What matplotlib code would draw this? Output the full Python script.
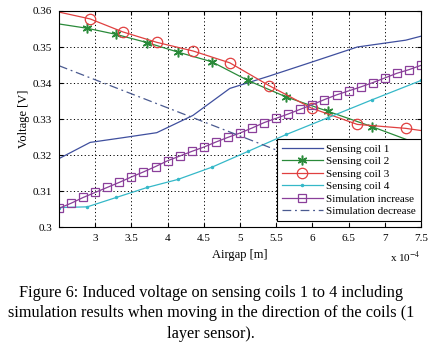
import matplotlib
matplotlib.use("Agg")
import matplotlib.pyplot as plt

plt.rcParams['font.family'] = ['Liberation Serif', 'DejaVu Serif']
plt.rcParams['mathtext.fontset'] = 'stix'

# airgap positions in units of 1e-4 m
x_coil13 = [2.5, 2.93, 3.38, 3.85, 4.35, 4.86, 5.40, 5.99, 6.62, 7.29, 7.5]
x_coil24 = [2.5, 2.89, 3.29, 3.72, 4.14, 4.61, 5.11, 5.64, 6.22, 6.82, 7.5]
x_sim = [2.5 + k / 6 for k in range(31)]

coil1 = [0.3190, 0.3235, 0.3248, 0.3262, 0.3310, 0.3385, 0.3419, 0.3458, 0.3500, 0.3519, 0.3530]
coil2 = [0.3564, 0.3552, 0.3535, 0.3512, 0.3486, 0.3459, 0.3407, 0.3361, 0.3321, 0.3279, 0.3228]
coil3 = [0.3597, 0.3578, 0.3542, 0.3513, 0.3489, 0.3456, 0.3393, 0.3330, 0.3285, 0.3274, 0.3268]
coil4 = [0.3054, 0.3056, 0.3082, 0.3110, 0.3132, 0.3166, 0.3210, 0.3257, 0.3304, 0.3353, 0.3407]

sim_inc = [0.3052, 0.3066, 0.3082, 0.3096, 0.3110, 0.3124, 0.3139, 0.3153, 0.3168, 0.3184,
           0.3197, 0.3210, 0.3222, 0.3236, 0.3249, 0.3261, 0.3275, 0.3290, 0.3302, 0.3314,
           0.3327, 0.3340, 0.3354, 0.3367, 0.3378, 0.3389, 0.3401, 0.3414, 0.3427, 0.3437,
           0.3449]
sim_dec = [0.3448, 0.3435, 0.3422, 0.3409, 0.3396, 0.3383, 0.3370, 0.3357, 0.3344, 0.3331,
           0.3318, 0.3305, 0.3292, 0.3279, 0.3266, 0.3253, 0.3240, 0.3227, 0.3214, 0.3201,
           0.3188, 0.3175, 0.3162, 0.3149, 0.3136, 0.3123, 0.3110, 0.3097, 0.3084, 0.3071,
           0.3058]

xticks = [3, 3.5, 4, 4.5, 5, 5.5, 6, 6.5, 7, 7.5]
xticklabels = ['3', '3.5', '4', '4.5', '5', '5.5', '6', '6.5', '7', '7.5']
yticks = [0.30, 0.31, 0.32, 0.33, 0.34, 0.35, 0.36]
yticklabels = ['0.3', '0.31', '0.32', '0.33', '0.34', '0.35', '0.36']

fig = plt.figure(figsize=(4.39, 3.47), dpi=100)
ax = fig.add_axes([0.1344, 0.3458, 0.8246, 0.6225])

ax.plot(x_coil13, coil1, color='#3f4f9e', lw=0.9, label='Sensing coil 1')
ax.plot(x_coil24, coil2, color='#2a8a3a', lw=0.9, marker=(6, 2, 0), ms=7, mew=1.1,
        markevery=list(range(1, len(coil2))), label='Sensing coil 2')
ax.plot(x_coil13, coil3, color='#e04040', lw=0.9, marker='o', ms=7.5, mfc='none', mew=0.9,
        markevery=list(range(1, len(coil3) - 1)), label='Sensing coil 3')
ax.plot(x_coil24, coil4, color='#35b8c8', lw=0.9, marker='.', ms=3,
        label='Sensing coil 4')
ax.plot(x_sim, sim_inc, color='#8a3f9a', lw=0.9, marker='s', ms=6, mfc='none', mew=0.9,
        label='Simulation increase')
ax.plot(x_sim, sim_dec, color='#4a5a90', lw=0.9, ls=(0, (7, 3, 1.5, 3)),
        label='Simulation decrease')

ax.set_xlim(2.5, 7.5)
ax.set_ylim(0.3, 0.36)
ax.set_xticks(xticks)
ax.set_xticklabels(xticklabels)
ax.set_yticks(yticks)
ax.set_yticklabels(yticklabels)
ax.tick_params(direction='in', length=3, labelsize=8, top=True, right=True, pad=5)
ax.grid(True, color='black', ls=(0, (1.2, 2.5)), lw=0.7)
for s in ax.spines.values():
    s.set_linewidth(0.8)

ax.set_xlabel('Airgap [m]', fontsize=9, labelpad=4)
ax.set_ylabel('Voltage [V]', fontsize=9, labelpad=2)

leg = ax.legend(loc='lower right', bbox_to_anchor=(1.0, 0.028), fontsize=8,
                fancybox=False, edgecolor='black', framealpha=1, handlelength=3.7,
                handletextpad=0.3, borderpad=0.45, labelspacing=0.24, borderaxespad=0)
leg.get_frame().set_linewidth(0.8)

fig.text(0.959, 0.258, r'x 10$^{-4}$', fontsize=8, ha='right', va='center')

fig.text(0.48, 0.156, 'Figure 6: Induced voltage on sensing coils 1 to 4 including',
         fontsize=11.7, ha='center', va='center')
fig.text(0.48, 0.098, 'simulation results when moving in the direction of the coils (1',
         fontsize=11.7, ha='center', va='center')
fig.text(0.48, 0.037, 'layer sensor).', fontsize=11.7, ha='center', va='center')

fig.savefig('out.png', dpi=100)
